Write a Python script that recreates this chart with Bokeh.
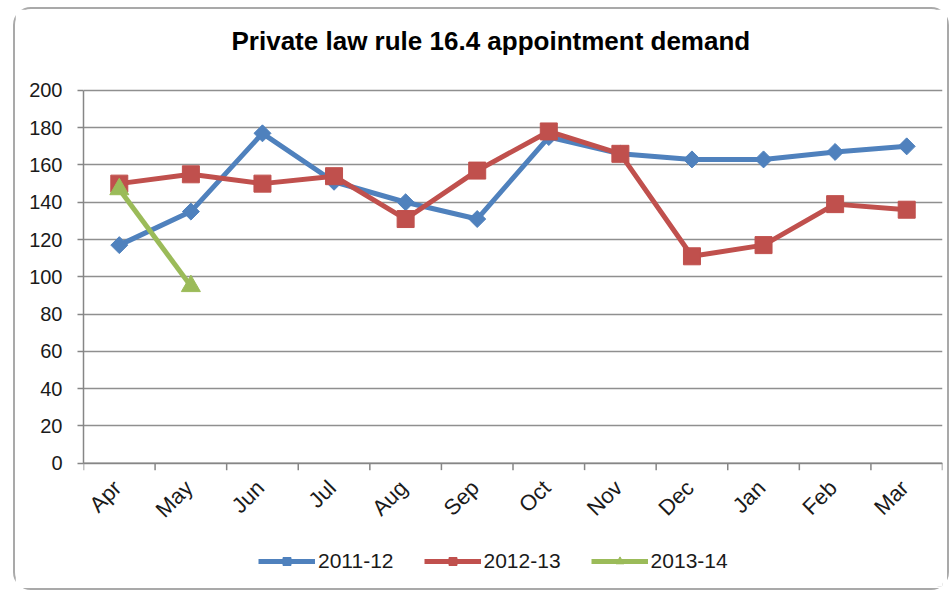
import math
from bokeh.plotting import figure
from bokeh.models import Range1d, FixedTicker, Legend, LegendItem
from bokeh.core.properties import value
from bokeh.embed import file_html
from bokeh.resources import INLINE

title = "Private law rule 16.4 appointment demand"
months = ["Apr", "May", "Jun", "Jul", "Aug", "Sep", "Oct", "Nov", "Dec", "Jan", "Feb", "Mar"]
s2011 = [117, 135, 177, 151, 140, 131, 175, 166, 163, 163, 167, 170]
s2012 = [150, 155, 150, 154, 131, 157, 178, 166, 111, 117, 139, 136]
s2013 = [147, 95]
series_names = ["2011-12", "2012-13", "2013-14"]
colors = ["#4F81BD", "#C0504D", "#9BBB59"]
y_ticks = list(range(0, 201, 20))

FONT = "Liberation Sans"
AXIS_GREY = "#868686"

# the frame reaches below zero so the month labels and legend sit inside it
p = figure(width=936, height=583, x_range=Range1d(0, len(months)), y_range=Range1d(-66.2, 209.1),
           output_backend="svg", toolbar_location=None, x_axis_location=None,
           min_border_left=68, min_border_right=9, min_border_top=0, min_border_bottom=6)
p.margin = (7, 0, 0, 13)
p.styles = {"border": "2px solid #a9a9a9", "border-radius": "18px", "box-sizing": "border-box"}
p.outline_line_color = None
p.background_fill_color = "white"
p.border_fill_color = "white"

p.title.text = title
p.title.align = "left"
p.title.vertical_align = "top"
p.title.text_font = FONT
p.title.text_font_size = "26px"
p.title.text_font_style = "bold"
p.title.text_color = "#000000"
p.title.offset = 148
p.title.standoff = 32

# y axis
p.yaxis.ticker = FixedTicker(ticks=y_ticks)
p.yaxis.bounds = (0, 200)
p.yaxis.major_tick_out = 6
p.yaxis.major_tick_in = 0
p.yaxis.major_tick_line_color = AXIS_GREY
p.yaxis.major_tick_line_width = 1.5
p.yaxis.minor_tick_line_color = None
p.yaxis.axis_line_color = AXIS_GREY
p.yaxis.axis_line_width = 1.5
p.yaxis.major_label_text_font = FONT
p.yaxis.major_label_text_font_size = "20px"
p.yaxis.major_label_text_color = "#1a1a1a"
p.yaxis.major_label_standoff = 15

p.xgrid.grid_line_color = None
p.ygrid.grid_line_color = "#8f8f8f"
p.ygrid.grid_line_width = 1.5

# category axis along y = 0: boundary tick marks and rotated month labels
centers = [i + 0.5 for i in range(len(months))]
bounds = list(range(len(months) + 1))
p.ray(x=bounds, y=[0] * len(bounds), length=7, length_units="screen", angle=-math.pi / 2,
      line_color=AXIS_GREY, line_width=1.5)
p.segment(x0=[0], y0=[0], x1=[len(months)], y1=[0], line_color=AXIS_GREY, line_width=1.5)
p.text(x=centers, y=[0] * len(months), text=months, angle=math.pi / 4,
       x_offset=-2, y_offset=21, text_align="right", text_baseline="middle",
       text_font=value(FONT), text_font_size=value("22px"), text_color="#1a1a1a")

items = []
data = [s2011, s2012, s2013]
markers = [("square", 12, math.pi / 4), ("square", 17, 0), ("triangle", 19, 0)]
for name, vals, col, (mk, sz, ang) in zip(series_names, data, colors, markers):
    xs = centers[:len(vals)]
    ln = p.line(xs, vals, line_color=col, line_width=5)
    sc = p.scatter(xs, vals, marker=mk, size=sz, angle=ang, fill_color=col, line_color=col)
    items.append(LegendItem(label=name, renderers=[ln, sc]))

legend = Legend(items=items, orientation="horizontal", location=(175, 13),
                glyph_width=57, glyph_height=20, label_standoff=3, spacing=30,
                padding=0, margin=0, border_line_color=None, background_fill_alpha=0,
                label_text_font=FONT, label_text_font_size="21px", label_text_color="#1a1a1a",
                label_height=20)
p.add_layout(legend)

open("out.html", "w").write(file_html(p, INLINE))
